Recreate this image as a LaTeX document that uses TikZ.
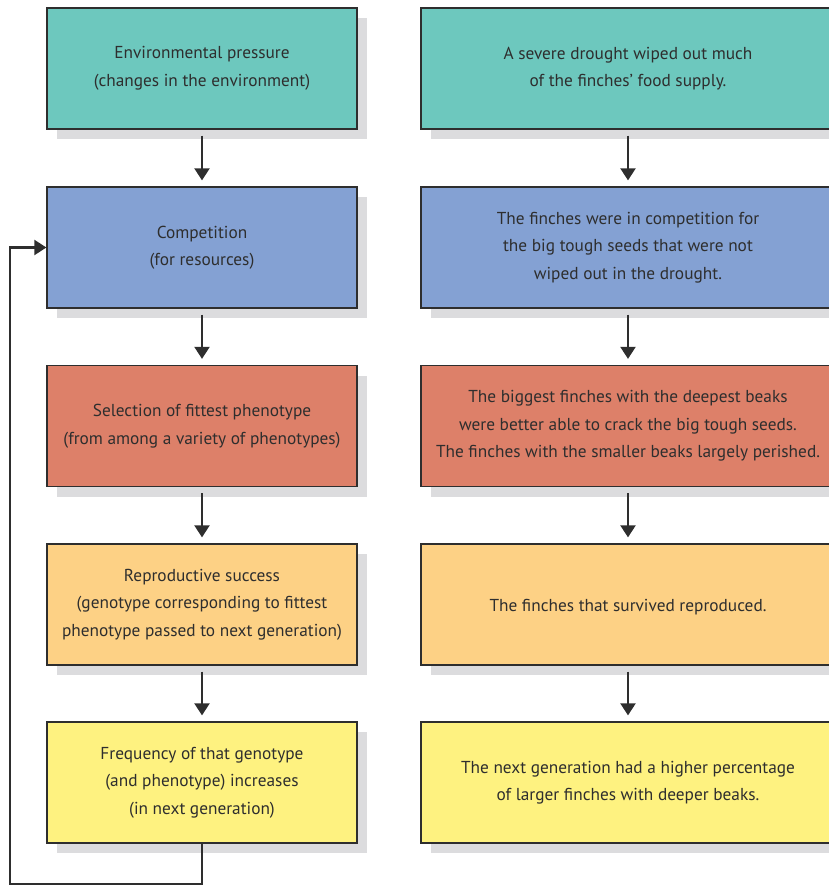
\documentclass[tikz,border=0pt]{standalone}
\usepackage{fontspec}
\setmainfont{PT Sans}
\usepackage{tikz}
\usetikzlibrary{positioning,shadows,arrows.meta}
\definecolor{pressurecolor}{HTML}{6DC8BE}
\definecolor{competitioncolor}{HTML}{84A1D3}
\definecolor{selectioncolor}{HTML}{DD8069}
\definecolor{successcolor}{HTML}{FDD185}
\definecolor{frequencycolor}{HTML}{FEF280}
\definecolor{shadowcolor}{HTML}{DCDCDE}
\definecolor{inkcolor}{HTML}{2E2E2E}
\newcommand{\StepFont}{\fontsize{17.3pt}{27.5pt}\selectfont}
\newcommand{\StepStrut}{\rule{0pt}{18pt}}
\tikzset{
  stepbox/.style={
    draw=inkcolor, line width=1.3pt, align=center, text=inkcolor,
    font=\StepFont, inner sep=0pt, minimum height=121pt,
    execute at begin node=\StepStrut,
    drop shadow={shadow xshift=10pt, shadow yshift=-10pt,
      fill=shadowcolor, opacity=1}
  },
  leftbox/.style={stepbox, minimum width=310pt},
  rightbox/.style={stepbox, minimum width=414pt},
  flow arrow/.style={
    -{Triangle[length=12pt,width=15pt]}, line width=2.2pt, draw=inkcolor,
    shorten <=6pt, shorten >=6pt
  },
  loop arrow/.style={
    -{Triangle[length=12pt,width=15pt]}, line width=2.2pt, draw=inkcolor
  }
}
\begin{document}
\begin{tikzpicture}[x=1pt, y=-1pt]
  \useasboundingbox (0,0) rectangle (829,886);
  \clip (0,0) rectangle (829,886);
  % general steps
  \node[leftbox, fill=pressurecolor] (pressure) at (202,68.5)
    {Environmental pressure\\(changes in the environment)};
  \node[leftbox, fill=competitioncolor] (competition) at (202,247.5)
    {Competition\\(for resources)};
  \node[leftbox, fill=selectioncolor] (selection) at (202,426)
    {Selection of fittest phenotype\\(from among a variety of phenotypes)};
  \node[leftbox, fill=successcolor] (success) at (202,604.5)
    {Reproductive success\\(genotype corresponding to fittest\\phenotype passed to next generation)};
  \node[leftbox, fill=frequencycolor] (frequency) at (202,782.5)
    {Frequency of that genotype\\(and phenotype) increases\\(in next generation)};
  % finch example
  \node[rightbox, fill=pressurecolor] (drought) at (628,68.5)
    {A severe drought wiped out much\\of the finches’ food supply.};
  \node[rightbox, fill=competitioncolor] (seeds) at (628,247.5)
    {The finches were in competition for\\the big tough seeds that were not\\wiped out in the drought.};
  \node[rightbox, fill=selectioncolor] (beaks) at (628,426)
    {The biggest finches with the deepest beaks\\were better able to crack the big tough seeds.\\The finches with the smaller beaks largely perished.};
  \node[rightbox, fill=successcolor] (survivors) at (628,604.5)
    {The finches that survived reproduced.};
  \node[rightbox, fill=frequencycolor] (offspring) at (628,782.5)
    {The next generation had a higher percentage\\of larger finches with deeper beaks.};
  % arrows
  \draw[flow arrow] (pressure) -- (competition);
  \draw[flow arrow] (competition) -- (selection);
  \draw[flow arrow] (selection) -- (success);
  \draw[flow arrow] (success) -- (frequency);
  \draw[flow arrow] (drought) -- (seeds);
  \draw[flow arrow] (seeds) -- (beaks);
  \draw[flow arrow] (beaks) -- (survivors);
  \draw[flow arrow] (survivors) -- (offspring);
  % feedback loop
  \coordinate (loopcorner) at (10,884);
  \draw[loop arrow] (frequency.south) |- (loopcorner) |- (competition.west);
\end{tikzpicture}
\end{document}
